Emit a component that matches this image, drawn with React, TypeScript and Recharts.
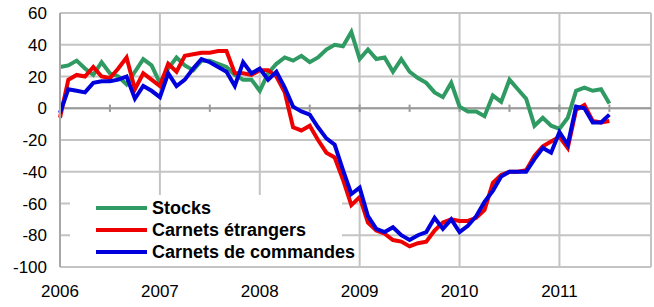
import { LineChart, Line, XAxis, YAxis, CartesianGrid, ReferenceLine, Legend } from 'recharts';

document.body.style.margin = '0';

// valeurs mensuelles, janvier 2006 -> juillet 2011
const stocks = [
  26, 27, 30, 25, 21, 29, 22, 20, 15, 23,
  31, 27, 16, 25, 32, 27, 24, 30, 30, 28,
  26, 21, 18, 18, 11, 22, 28, 32, 30, 33,
  29, 32, 37, 40, 39, 48, 31, 37, 31, 32,
  23, 31, 23, 19, 16, 10, 7, 16, 1, -2,
  -2, -5, 8, 4, 18, 12, 6, -11, -6, -11,
  -13, -6, 11, 13, 11, 12, 3,
];
const etrangers = [
  -6, 18, 21, 20, 26, 20, 19, 25, 32, 12,
  22, 18, 14, 28, 23, 33, 34, 35, 35, 36,
  36, 22, 22, 21, 24, 24, 20, 10, -12, -14,
  -11, -20, -28, -31, -45, -61, -56, -72, -77, -79,
  -83, -84, -87, -85, -84, -77, -72, -70, -71, -71,
  -69, -64, -47, -42, -40, -40, -39, -30, -24, -21,
  -18, -25, -1, 2, -8, -9, -8,
];
const commandes = [
  -3, 12, 11, 10, 16, 17, 17, 18, 20, 6,
  14, 11, 7, 22, 14, 18, 25, 31, 29, 26,
  23, 14, 29, 22, 25, 18, 23, 13, 1, -2,
  -4, -12, -19, -23, -39, -54, -50, -68, -76, -78,
  -75, -80, -83, -80, -78, -69, -76, -70, -78, -74,
  -68, -59, -52, -43, -40, -40, -40, -32, -25, -28,
  -15, -23, 1, 0, -9, -9, -4,
];
const years = ['2006', '2007', '2008', '2009', '2010', '2011'];
const yTicks = [-100, -80, -60, -40, -20, 0, 20, 40, 60];
const xTicks = [0, 12, 24, 36, 48, 60, 71];
const halfYears = [6, 12, 18, 24, 30, 36, 42, 48, 54, 60, 66];

const data = stocks.map((s, i) => ({ m: i, stocks: s, etrangers: etrangers[i], commandes: commandes[i] }));

const series = [
  { key: 'stocks', name: 'Stocks', color: '#2f9a62' },
  { key: 'etrangers', name: 'Carnets étrangers', color: '#ee0000' },
  { key: 'commandes', name: 'Carnets de commandes', color: '#0000dd' },
];

const renderLegend = () => (
  <div style={{ background: '#fff', padding: '2px 0 3px 26px', width: 246, height: 66, whiteSpace: 'nowrap' }}>
    {series.map((s) => (
      <div key={s.key} style={{ display: 'flex', alignItems: 'center', height: 22 }}>
        <span style={{ display: 'inline-block', width: 51, height: 4, background: s.color, marginRight: 5, flexShrink: 0 }} />
        <span style={{ fontWeight: 'bold', fontSize: 18, color: '#000' }}>{s.name}</span>
      </div>
    ))}
  </div>
);

export default function App() {
  return (
    <div style={{ fontFamily: '"Liberation Sans", Arial, sans-serif' }}>
      <LineChart width={654} height={307} data={data} margin={{ top: 13, right: 3, left: 0, bottom: 0 }}>
        <CartesianGrid stroke="#c4c4c4" strokeWidth={2} />
        <XAxis
          type="number"
          dataKey="m"
          domain={[0, 71]}
          ticks={xTicks}
          tickFormatter={(v: number) => (v % 12 === 0 ? years[v / 12] : '')}
          height={40}
          tickLine={false}
          tickMargin={12}
          axisLine={{ stroke: '#c4c4c4', strokeWidth: 2 }}
          tick={{ fontSize: 17, fill: '#000' }}
          interval={0}
        />
        <YAxis
          domain={[-100, 60]}
          ticks={yTicks}
          width={60}
          tickLine={false}
          tickMargin={7}
          axisLine={{ stroke: '#a8a8a8', strokeWidth: 2 }}
          tick={{ fontSize: 17, fill: '#000' }}
          interval={0}
        />
        <ReferenceLine y={0} stroke="#9a9a9a" strokeWidth={2} />
        {halfYears.map((h) => (
          <ReferenceLine key={h} segment={[{ x: h, y: -2.3 }, { x: h, y: 2.3 }]} stroke="#9a9a9a" strokeWidth={2} />
        ))}
        {series.map((s) => (
          <Line
            key={s.key}
            type="linear"
            dataKey={s.key}
            name={s.name}
            stroke={s.color}
            strokeWidth={4}
            dot={false}
            isAnimationActive={false}
          />
        ))}
        <Legend
          layout="horizontal"
          verticalAlign="middle"
          align="center"
          content={renderLegend}
          wrapperStyle={{ left: 70, top: 195, width: 272 }}
        />
      </LineChart>
    </div>
  );
}
